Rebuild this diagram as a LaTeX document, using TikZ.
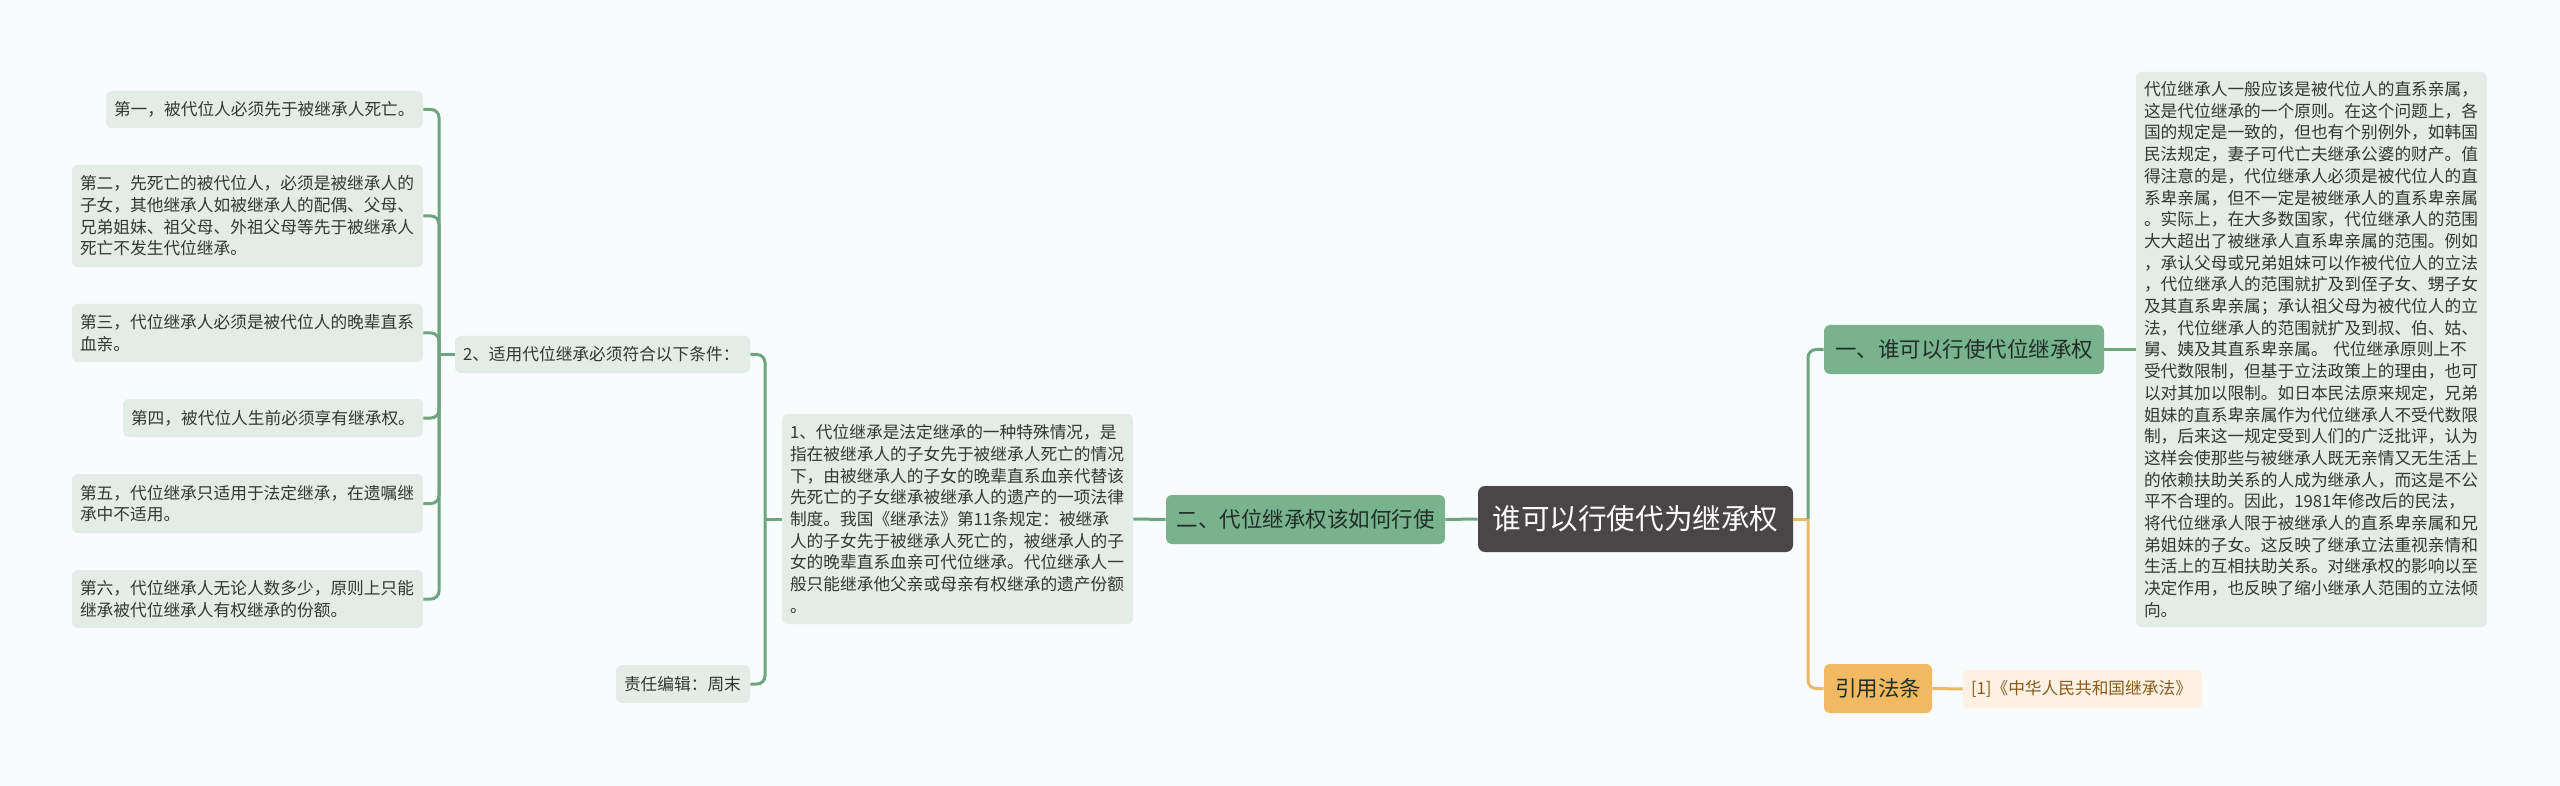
\documentclass[tikz,border=0pt]{standalone}
\usepackage{fontspec}
\setmainfont{Noto Sans CJK SC}
\definecolor{bgc}{HTML}{F9FCFC}
\definecolor{leaffill}{HTML}{E3ECE6}
\definecolor{leaftext}{HTML}{2F3A33}
\definecolor{gline}{HTML}{6DA582}
\definecolor{brfill}{HTML}{78B38E}
\definecolor{brtext}{HTML}{1F2F25}
\definecolor{rootfill}{HTML}{4A4647}
\definecolor{oline}{HTML}{EBB868}
\definecolor{ofill}{HTML}{F1BA62}
\definecolor{olfill}{HTML}{FCF1E3}
\definecolor{oltext}{HTML}{8A5A1E}
\tikzset{
  leafbox/.style={fill=leaffill, rounded corners=3pt, text=leaftext, align=left, inner xsep=4pt, inner ysep=1pt,
    font=\fontsize{8.35}{10.85}\selectfont},
  brbox/.style={fill=brfill, rounded corners=3pt, text=brtext, align=center, inner xsep=2pt, inner ysep=1pt,
    font=\fontsize{10.75}{13}\selectfont},
  rootbox/.style={fill=rootfill, rounded corners=3.5pt, text=white, align=center, inner xsep=2pt, inner ysep=1pt,
    font=\fontsize{14.3}{17}\selectfont},
  obrbox/.style={fill=ofill, rounded corners=3pt, text=brtext, align=center, inner xsep=2pt, inner ysep=1pt,
    font=\fontsize{10.75}{13}\selectfont},
  oleafbox/.style={fill=olfill, rounded corners=3pt, text=oltext, align=left, inner xsep=4pt, inner ysep=1pt,
    font=\fontsize{8.35}{10.85}\selectfont},
  gconn/.style={draw=gline, line width=1.5pt, rounded corners=4pt},
  oconn/.style={draw=oline, line width=1.5pt, rounded corners=4pt},
}
\newcommand\mmbox[7]{%
  \pgfmathsetmacro\mmcx{(#2+#4)/2}%
  \pgfmathsetmacro\mmcy{(#3+#5)/2}%
  \pgfmathsetmacro\mmw{(#4-#2)*0.5}%
  \pgfmathsetmacro\mmh{(#5-#3)*0.5}%
  \pgfmathsetmacro\mmtw{(#4-#2)*0.5-8}%
  \node[#6, minimum width=\mmw pt, minimum height=\mmh pt, text width=\mmtw pt] (#1) at (\mmcx,\mmcy) {#7};%
}
\begin{document}
\begin{tikzpicture}[x=0.5pt,y=-0.5pt]
\fill[bgc] (0,0) rectangle (2560,786);
\useasboundingbox (0,0) rectangle (2560,786);

% left leaves
\mmbox{L1}{106}{91}{423}{128}{leafbox}{第一，被代位人必须先于被继承人死亡。}
\mmbox{L2}{72}{165}{423}{267}{leafbox}{第二，先死亡的被代位人，必须是被继承人的\\子女，其他继承人如被继承人的配偶、父母、\\兄弟姐妹、祖父母、外祖父母等先于被继承人\\死亡不发生代位继承。}
\mmbox{L3}{72}{304}{423}{362}{leafbox}{第三，代位继承人必须是被代位人的晚辈直系\\血亲。}
\mmbox{L4}{123}{399}{423}{437}{leafbox}{第四，被代位人生前必须享有继承权。}
\mmbox{L5}{72}{474}{423}{533}{leafbox}{第五，代位继承只适用于法定继承，在遗嘱继\\承中不适用。}
\mmbox{L6}{72}{570}{423}{628}{leafbox}{第六，代位继承人无论人数多少，原则上只能\\继承被代位继承人有权继承的份额。}

\mmbox{N2}{455}{336}{750}{373}{leafbox}{2、适用代位继承必须符合以下条件：}
\mmbox{N1}{782}{414}{1133}{624}{leafbox}{1、代位继承是法定继承的一种特殊情况，是\\指在被继承人的子女先于被继承人死亡的情况\\下，由被继承人的子女的晚辈直系血亲代替该\\先死亡的子女继承被继承人的遗产的一项法律\\制度。我国《继承法》第11条规定：被继承\\人的子女先于被继承人死亡的，被继承人的子\\女的晚辈直系血亲可代位继承。代位继承人一\\般只能继承他父亲或母亲有权继承的遗产份额\\。}
\mmbox{ED}{616}{665}{750}{703}{leafbox}{责任编辑：周末}

\mmbox{B2}{1166}{495}{1445}{544}{brbox}{二、代位继承权该如何行使}
\mmbox{Root}{1478}{486}{1793}{552}{rootbox}{谁可以行使代为继承权}
\mmbox{B1}{1824}{325}{2104}{374}{brbox}{一、谁可以行使代位继承权}
\mmbox{B3}{1824}{664}{1932}{713}{obrbox}{引用法条}
\mmbox{R2}{1963}{670}{2202}{708}{oleafbox}{[1]《中华人民共和国继承法》}
\mmbox{R1}{2136}{72}{2487}{627}{leafbox}{代位继承人一般应该是被代位人的直系亲属，\\这是代位继承的一个原则。在这个问题上，各\\国的规定是一致的，但也有个别例外，如韩国\\民法规定，妻子可代亡夫继承公婆的财产。值\\得注意的是，代位继承人必须是被代位人的直\\系卑亲属，但不一定是被继承人的直系卑亲属\\。实际上，在大多数国家，代位继承人的范围\\大大超出了被继承人直系卑亲属的范围。例如\\，承认父母或兄弟姐妹可以作被代位人的立法\\，代位继承人的范围就扩及到侄子女、甥子女\\及其直系卑亲属；承认祖父母为被代位人的立\\法，代位继承人的范围就扩及到叔、伯、姑、\\舅、姨及其直系卑亲属。 代位继承原则上不\\受代数限制，但基于立法政策上的理由，也可\\以对其加以限制。如日本民法原来规定，兄弟\\姐妹的直系卑亲属作为代位继承人不受代数限\\制，后来这一规定受到人们的广泛批评，认为\\这样会使那些与被继承人既无亲情又无生活上\\的依赖扶助关系的人成为继承人，而这是不公\\平不合理的。因此，1981年修改后的民法，\\将代位继承人限于被继承人的直系卑亲属和兄\\弟姐妹的子女。这反映了继承立法重视亲情和\\生活上的互相扶助关系。对继承权的影响以至\\决定作用，也反映了缩小继承人范围的立法倾\\向。}

% spines
\coordinate (spineL) at (439,354.5);
\coordinate (spineM) at (765,519);
\coordinate (spineR) at (1808,519);

\begin{scope}[on background layer/.style={}]
\end{scope}

% connectors (drawn after nodes; lines end at node borders)
\draw[gconn] (N2.west) -- (spineL);
\foreach \n in {L1,L2,L3,L4,L5,L6} {\draw[gconn] (\n.east) -| (spineL);}
\draw[gconn] (N1.west) -- (spineM);
\draw[gconn] (N2.east) -| (spineM);
\draw[gconn] (ED.east) -| (spineM);
\draw[gconn] (B2.west) -- (N1.east);
\draw[gconn] (Root.west) -- (B2.east);
\draw[oconn] (Root.east) -- (spineR);
\draw[gconn] (B1.west) -| (spineR);
\draw[oconn] (B3.west) -| (spineR);
\draw[gconn] (B1.east) -- (R1.west);
\draw[oconn] (B3.east) -- (R2.west);
\end{tikzpicture}
\end{document}
